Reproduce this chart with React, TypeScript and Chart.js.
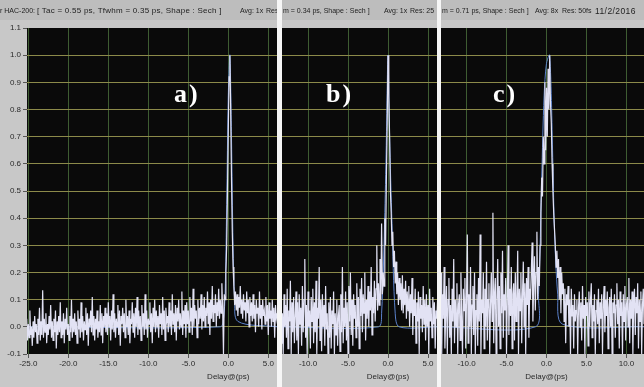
import React, { useEffect, useRef } from "react";
import { Chart, registerables } from "chart.js";
Chart.register(...registerables);

// ---------- data ----------
const Y_TICKS = [-0.1, 0.0, 0.1, 0.2, 0.3, 0.4, 0.5, 0.6, 0.7, 0.8, 0.9, 1.0, 1.1];
const A_X_TICKS = [-25, -20, -15, -10, -5, 0, 5];
const B_X_TICKS = [-10, -5, 0, 5];
const C_X_TICKS = [-10, -5, 0, 5, 10];

const STEP = 0.1; // ps between samples
const A_START = -25.2;
const B_START = -13.4;
const C_START = -13.2;

const A_TRACE = [
  0.03, -0.05, 0.01, -0.04, 0.06, -0.03, 0.0, -0.07, 0.02, -0.04, 0.04, -0.02, 0.01, -0.06, 0.03, -0.03, 0.07, -0.05, 0.02, -0.03,
  0.135, -0.04, 0.03, -0.02, 0.05, -0.06, 0.01, -0.03, 0.04, -0.01, 0.08, -0.04, 0.02, -0.05, 0.03, -0.02, 0.06, -0.08, 0.02, -0.03,
  0.04, -0.02, 0.09, -0.04, 0.02, -0.03, 0.05, -0.06, 0.03, -0.01, 0.07, -0.03, 0.01, -0.05, 0.04, -0.02, 0.1, -0.04, 0.03, -0.02,
  0.05, -0.03, 0.02, -0.06, 0.06, -0.01, 0.03, -0.04, 0.09, -0.02, 0.04, -0.05, 0.02, -0.01, 0.07, -0.03, 0.05, -0.07, 0.03, 0.0,
  0.06, -0.02, 0.11, -0.03, 0.04, -0.05, 0.03, -0.01, 0.06, -0.04, 0.02, -0.02, 0.08, -0.03, 0.05, -0.06, 0.04, 0.0, 0.07, -0.02,
  0.05, -0.03, 0.09, 0.0, 0.04, -0.05, 0.06, -0.01, 0.12, -0.02, 0.05, -0.04, 0.03, 0.0, 0.08, -0.03, 0.06, -0.07, 0.04, 0.01,
  0.07, -0.02, 0.05, -0.04, 0.1, 0.0, 0.04, -0.03, 0.06, -0.06, 0.03, 0.01, 0.09, -0.02, 0.05, -0.04, 0.07, 0.0, 0.11, -0.03,
  0.06, -0.01, 0.04, -0.05, 0.08, 0.0, 0.05, -0.03, 0.12, -0.01, 0.06, -0.04, 0.03, 0.01, 0.09, -0.02, 0.05, -0.06, 0.07, 0.0,
  0.1, -0.02, 0.06, 0.0, 0.04, -0.04, 0.08, 0.01, 0.05, -0.03, 0.11, -0.01, 0.06, -0.05, 0.07, 0.02, 0.04, -0.02, 0.09, 0.0,
  0.06, -0.03, 0.12, 0.01, 0.05, -0.02, 0.08, -0.05, 0.07, 0.02, 0.1, -0.01, 0.05, 0.0, 0.13, -0.03, 0.06, 0.01, 0.08, -0.04,
  0.09, 0.01, 0.06, -0.02, 0.11, 0.02, 0.07, -0.03, 0.14, 0.0, 0.08, 0.03, 0.06, -0.04, 0.1, 0.01, 0.07, 0.03, 0.12, -0.01,
  0.08, 0.02, 0.11, 0.0, 0.07, 0.04, 0.13, 0.01, 0.09, -0.03, 0.1, 0.03, 0.15, 0.02, 0.08, 0.05, 0.12, 0.0, 0.09, 0.04,
  0.14, 0.03, 0.1, 0.05, 0.16, 0.06, -0.1, 0.12, 0.1, 0.2, 0.3, 0.5, 0.72, 0.92, 1.0, 0.8, 0.55, 0.35, 0.22, 0.15,
  0.08, 0.13, 0.06, 0.12, 0.04, 0.11, 0.07, 0.15, 0.05, 0.1, 0.03, 0.12, 0.06, 0.09, 0.02, 0.13, 0.05, 0.1, 0.0, 0.11,
  0.04, 0.09, 0.02, 0.12, 0.03, 0.08, -0.02, 0.1, 0.05, 0.07, 0.0, 0.13, 0.03, 0.08, -0.01, 0.1, 0.04, 0.06, 0.01, 0.11,
  0.02, 0.08, -0.03, 0.09, 0.03, 0.06, 0.0, 0.1, 0.02, 0.07, -0.04, 0.08, 0.03, 0.05, 0.01,
];

const B_TRACE = [
  0.1, -0.06, 0.05, -0.1, 0.12, 0.0, 0.08, -0.04, 0.14, -0.08, 0.06, 0.02, 0.17, -0.1, 0.09, -0.02, 0.11, -0.06, 0.04, 0.13,
  -0.05, 0.09, -0.1, 0.12, 0.01, 0.07, -0.07, 0.15, -0.02, 0.1, 0.25, -0.04, 0.08, -0.1, 0.13, 0.0, 0.06, -0.08, 0.11, 0.02,
  0.14, -0.06, 0.09, -0.02, 0.17, -0.1, 0.07, 0.03, 0.22, -0.05, 0.1, -0.09, 0.12, 0.0, 0.08, -0.07, 0.15, -0.01, 0.05, -0.1,
  0.09, -0.04, 0.11, -0.08, 0.06, 0.01, 0.13, -0.1, 0.05, -0.03, 0.1, -0.07, 0.04, 0.08, -0.09, 0.12, -0.02, 0.22, -0.06, 0.07,
  0.0, 0.13, -0.05, 0.09, -0.1, 0.15, 0.02, 0.2, -0.03, 0.1, -0.07, 0.12, 0.03, 0.08, -0.04, 0.16, 0.0, 0.11, -0.08, 0.14,
  0.04, 0.18, -0.02, 0.12, 0.05, 0.2, -0.05, 0.1, 0.03, 0.15, 0.0, 0.13, 0.06, 0.22, -0.03, 0.11, 0.05, 0.17, 0.02, 0.14,
  0.3, 0.06, 0.16, 0.08, 0.25, 0.1, 0.38, 0.12, 0.2, 0.15, 0.4, 0.3, 0.55, 0.75, 1.0, 0.85, 0.7, 0.5, 0.42, 0.3,
  0.35, 0.22, 0.28, 0.16, 0.24, 0.12, 0.2, 0.08, 0.18, 0.1, 0.16, 0.06, 0.19, 0.05, 0.14, 0.08, 0.17, 0.03, 0.13, 0.06,
  0.15, 0.0, 0.12, 0.05, 0.18, -0.03, 0.1, 0.04, 0.14, -0.06, 0.09, 0.02, 0.13, -0.1, 0.11, 0.03, 0.08, -0.02, 0.15, 0.01,
  0.1, -0.05, 0.12, 0.0, 0.08, -0.1, 0.14, 0.02, 0.07, -0.04, 0.11, 0.01, 0.09, -0.08, 0.06, 0.03, 0.1,
];

const C_TRACE = [
  0.2, -0.1, 0.12, 0.03, 0.22, -0.08, 0.05, 0.15, -0.1, 0.1, 0.18, -0.04, 0.08, -0.1, 0.14, 0.02, 0.25, -0.06, 0.1, 0.0,
  0.16, -0.1, 0.08, 0.12, -0.05, 0.2, 0.02, -0.1, 0.14, 0.06, 0.18, -0.08, 0.1, 0.34, -0.06, 0.12, 0.0, 0.22, -0.1, 0.08,
  0.15, -0.03, 0.2, -0.1, 0.06, 0.12, -0.07, 0.18, 0.02, 0.34, -0.1, 0.1, 0.05, 0.2, -0.08, 0.14, 0.0, 0.24, -0.05, 0.1,
  0.16, -0.1, 0.08, 0.2, 0.02, 0.42, -0.06, 0.12, 0.18, -0.1, 0.1, 0.25, 0.0, 0.15, -0.08, 0.2, 0.05, 0.28, -0.04, 0.12,
  0.06, 0.18, -0.1, 0.1, 0.3, -0.03, 0.14, 0.04, 0.22, -0.08, 0.12, 0.16, -0.05, 0.2, 0.02, 0.1, 0.28, -0.1, 0.14, 0.06,
  0.2, -0.06, 0.12, 0.24, 0.0, 0.16, -0.1, 0.18, 0.08, 0.22, -0.04, 0.14, 0.1, 0.2, 0.31, 0.02, 0.16, 0.26, 0.06, 0.2,
  0.35, 0.1, 0.22, 0.15, 0.3, 0.42, 0.55, 0.48, 0.7, 0.6, 0.9, 0.65, 0.88, 0.7, 0.95, 0.8, 1.0, 0.82, 0.75, 0.6,
  0.5, 0.42, 0.36, 0.3, 0.22, 0.28, 0.18, 0.25, 0.1, 0.22, 0.05, 0.2, 0.12, 0.16, 0.02, 0.14, -0.06, 0.12, 0.08, 0.15,
  0.0, 0.1, -0.1, 0.14, 0.04, 0.08, -0.08, 0.12, 0.02, 0.06, 0.1, -0.1, 0.07, 0.13, 0.0, 0.09, -0.05, 0.15, 0.03, 0.08,
  -0.1, 0.11, 0.04, 0.09, -0.07, 0.13, 0.0, 0.1, 0.16, -0.04, 0.08, 0.02, 0.12, -0.1, 0.06, 0.1, 0.01, 0.14, -0.06, 0.09,
  0.03, 0.12, -0.1, 0.08, 0.15, -0.02, 0.1, 0.04, 0.13, -0.08, 0.07, 0.11, 0.0, 0.14, -0.1, 0.09, 0.05, 0.12, -0.04, 0.08,
  0.16, 0.01, 0.1, -0.08, 0.13, 0.04, 0.09, -0.1, 0.12, 0.02, 0.15, -0.05, 0.08, 0.11, 0.0, 0.18, -0.06, 0.1, 0.03, 0.13,
  -0.1, 0.09, 0.14, -0.03, 0.11, 0.05, 0.16, -0.08, 0.1, 0.02, 0.13, -0.1, 0.08, 0.14, 0.01,
];

const A_FIT_X = [-25.2, -1.0, -0.6, -0.4, -0.2, 0.0, 0.2, 0.4, 0.6, 0.8, 1.2, 6.2];
const A_FIT_Y = [0, 0, 0.03, 0.12, 0.45, 0.85, 1.0, 0.7, 0.3, 0.1, 0.02, 0];
const B_FIT_X = [-13.4, -1.2, -0.8, -0.4, -0.2, 0.0, 0.2, 0.5, 0.9, 1.4, 6.2];
const B_FIT_Y = [0, 0, 0.05, 0.42, 0.7, 1.0, 0.7, 0.38, 0.05, 0.0, 0];
const C_FIT_X = [-13.2, -1.4, -1.0, -0.8, -0.6, -0.3, 0.0, 0.4, 0.8, 1.0, 1.4, 2.0, 12.2];
const C_FIT_Y = [0, 0, 0.12, 0.3, 0.55, 0.85, 0.97, 1.0, 0.6, 0.35, 0.12, 0.01, 0];

// ---------- styling ----------
const FONT = "'Liberation Sans', Arial, sans-serif";
const H_GRID = "#8c8a4a";
const V_GRID = "#3e5c32";

type PanelCfg = {
  left: number;
  width: number;
  xMin: number;
  xMax: number;
  start: number;
  trace: number[];
  fitX: number[];
  fitY: number[];
  xTicks: number[];
  showY: boolean;
};

const PANELS: PanelCfg[] = [
  { left: 0, width: 277, xMin: -25.16, xMax: 6.09, start: A_START, trace: A_TRACE, fitX: A_FIT_X, fitY: A_FIT_Y, xTicks: A_X_TICKS, showY: true },
  { left: 282, width: 155, xMin: -13.25, xMax: 6.125, start: B_START, trace: B_TRACE, fitX: B_FIT_X, fitY: B_FIT_Y, xTicks: B_X_TICKS, showY: false },
  { left: 441, width: 203, xMin: -13.19, xMax: 12.19, start: C_START, trace: C_TRACE, fitX: C_FIT_X, fitY: C_FIT_Y, xTicks: C_X_TICKS, showY: false },
];

const bgPlugin = {
  id: "blackArea",
  beforeDraw(chart: any) {
    const { ctx, chartArea } = chart;
    ctx.save();
    ctx.fillStyle = "#0a0a0a";
    ctx.fillRect(chartArea.left, chartArea.top, chartArea.right - chartArea.left, chartArea.bottom - chartArea.top);
    ctx.restore();
  },
};

const delayPlugin = {
  id: "delayLabel",
  afterDraw(chart: any) {
    const { ctx } = chart;
    const x = chart.scales.x.getPixelForValue(0);
    ctx.save();
    ctx.font = `8px ${FONT}`;
    ctx.fillStyle = "#2a2a2a";
    ctx.textAlign = "center";
    ctx.textBaseline = "middle";
    ctx.fillText("Delay@(ps)", x, 377);
    ctx.restore();
  },
};

function makeChart(canvas: HTMLCanvasElement, p: PanelCfg) {
  const traceData = p.trace.map((v, i) => ({ x: +(p.start + i * STEP).toFixed(2), y: v }));
  const fitData = p.fitX.map((x, i) => ({ x, y: p.fitY[i] }));
  return new Chart(canvas, {
    type: "line",
    data: {
      datasets: [
        { data: traceData, borderColor: "#e2e2f4", borderWidth: 1.2, pointRadius: 0, tension: 0 },
        { data: fitData, borderColor: "#5b82cc", borderWidth: 1, pointRadius: 0, tension: 0.3 },
      ],
    },
    options: {
      animation: false,
      responsive: false,
      maintainAspectRatio: false,
      events: [],
      layout: { padding: { top: 28, left: 0, right: 0, bottom: 0 }, autoPadding: false } as any,
      plugins: { legend: { display: false }, tooltip: { enabled: false }, title: { display: false } },
      scales: {
        x: {
          type: "linear",
          min: p.xMin,
          max: p.xMax,
          afterBuildTicks: (s: any) => {
            s.ticks = p.xTicks.map((v) => ({ value: v }));
          },
          afterFit: (s: any) => {
            s.height = 33;
          },
          ticks: {
            callback: (v: any) => Number(v).toFixed(1),
            font: { size: 8, family: FONT },
            color: "#2a2a2a",
            padding: 1,
            maxRotation: 0,
            autoSkip: false,
          },
          grid: { color: V_GRID, tickColor: "#555", tickLength: 4, lineWidth: 1 },
          border: { display: false },
        },
        y: {
          type: "linear",
          min: -0.1,
          max: 1.1,
          afterBuildTicks: (s: any) => {
            s.ticks = Y_TICKS.map((v) => ({ value: v }));
          },
          afterFit: (s: any) => {
            s.width = p.showY ? 27 : 0;
          },
          ticks: {
            display: p.showY,
            callback: (v: any) => Number(v).toFixed(1),
            font: { size: 8, family: FONT },
            color: "#2a2a2a",
            padding: 2,
            autoSkip: false,
          },
          grid: {
            color: (c: any) =>
              c.tick && (Math.abs(c.tick.value - 1.1) < 1e-6 || Math.abs(c.tick.value + 0.1) < 1e-6)
                ? "rgba(0,0,0,0)"
                : H_GRID,
            drawTicks: p.showY,
            tickColor: "#555",
            tickLength: 4,
          },
          border: { display: false },
        },
      },
    } as any,
    plugins: [bgPlugin, delayPlugin],
  });
}

const hs = (left: number, size: number, extra: React.CSSProperties = {}): React.CSSProperties => ({
  position: "absolute",
  left,
  top: 6,
  fontFamily: FONT,
  fontSize: size,
  lineHeight: "10px",
  color: "#222",
  whiteSpace: "pre",
  ...extra,
});

const labelStyle: React.CSSProperties = {
  position: "absolute",
  top: 81,
  fontFamily: "'Liberation Serif', 'Times New Roman', serif",
  fontWeight: "bold",
  fontSize: 26,
  lineHeight: "26px",
  color: "#ffffff",
  letterSpacing: 2,
  whiteSpace: "pre",
};

export default function App() {
  const refs = [useRef<HTMLCanvasElement>(null), useRef<HTMLCanvasElement>(null), useRef<HTMLCanvasElement>(null)];

  useEffect(() => {
    const charts = PANELS.map((p, i) => makeChart(refs[i].current as HTMLCanvasElement, p));
    return () => charts.forEach((c) => c.destroy());
  }, []);

  return (
    <div style={{ position: "fixed", left: 0, top: 0, width: 644, height: 387, overflow: "hidden", background: "#c8c8c8" }}>
      {PANELS.map((p, i) => (
        <div key={"hb" + i} style={{ position: "absolute", left: p.left, top: 0, width: p.width, height: 20, background: "#bdbdbd" }} />
      ))}
      {PANELS.map((p, i) => (
        <canvas
          key={"c" + i}
          ref={refs[i]}
          width={p.width}
          height={387}
          style={{ position: "absolute", left: p.left, top: 0, width: p.width, height: 387 }}
        />
      ))}
      <div style={{ position: "absolute", left: 0, top: 0, width: 277, height: 20, overflow: "hidden" }}>
        <span style={hs(0, 7)}>r HAC-200:</span>
        <span style={hs(37, 8, { letterSpacing: 0.25 })}>[ Tac = 0.55 ps, Tfwhm = 0.35 ps, Shape : Sech ]</span>
        <span style={hs(240, 7)}>Avg: 1x</span>
        <span style={hs(266, 7)}>Res: 25</span>
      </div>
      <div style={{ position: "absolute", left: 282, top: 0, width: 155, height: 20, overflow: "hidden" }}>
        <span style={hs(1, 7)}>m = 0.34 ps, Shape : Sech ]</span>
        <span style={hs(102, 7)}>Avg: 1x</span>
        <span style={hs(128, 7)}>Res: 25</span>
      </div>
      <div style={{ position: "absolute", left: 441, top: 0, width: 203, height: 20, overflow: "hidden" }}>
        <span style={hs(1, 7)}>m = 0.71 ps, Shape : Sech ]</span>
        <span style={hs(94, 7)}>Avg: 8x</span>
        <span style={hs(121, 7)}>Res: 50fs</span>
        <span style={hs(154, 8.5, { letterSpacing: 0.4 })}>11/2/2016</span>
      </div>
      <div style={{ position: "absolute", left: 277, top: 0, width: 5, height: 387, background: "#f6f6f6" }} />
      <div style={{ position: "absolute", left: 437, top: 0, width: 4, height: 387, background: "#f6f6f6" }} />
      <div style={{ ...labelStyle, left: 174 }}>a)</div>
      <div style={{ ...labelStyle, left: 326 }}>b)</div>
      <div style={{ ...labelStyle, left: 493 }}>c)</div>
    </div>
  );
}
